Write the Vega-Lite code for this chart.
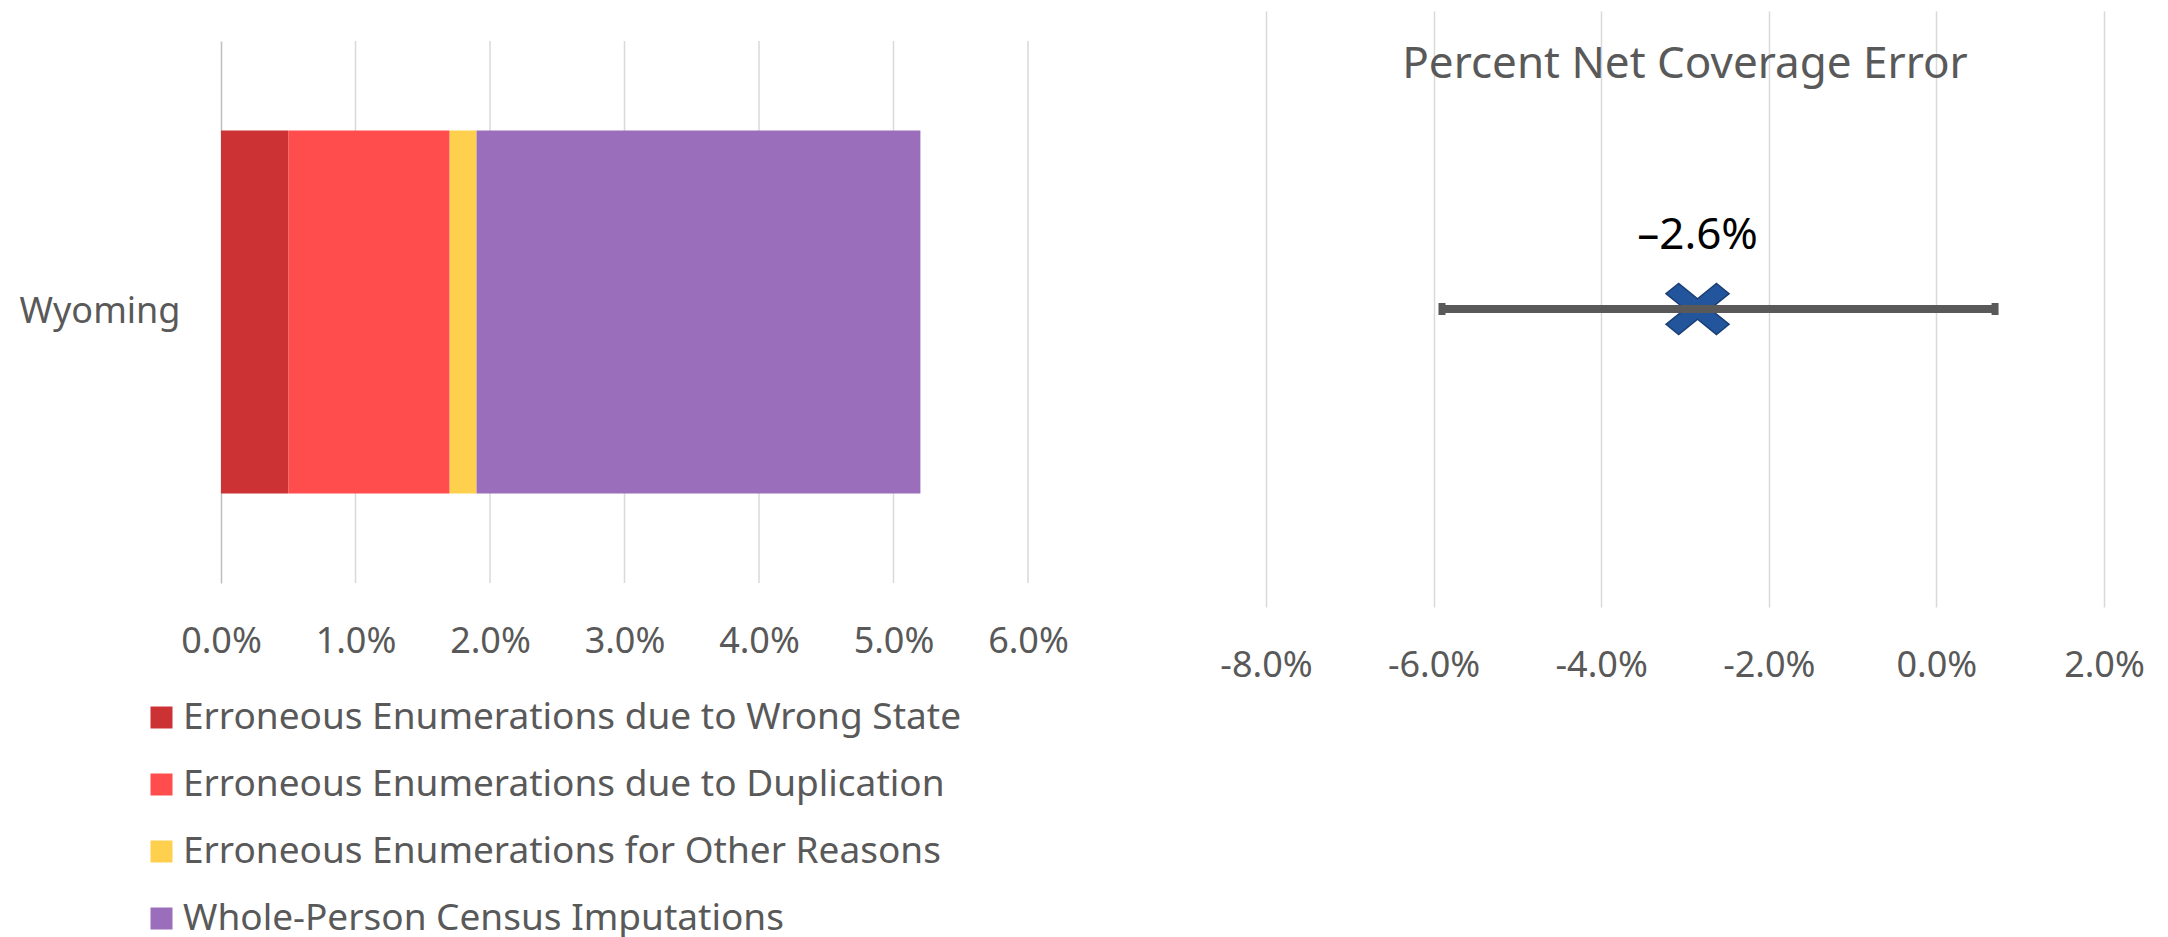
{
  "$schema": "https://vega.github.io/schema/vega-lite/v6.json",
  "background": "white",
  "padding": {"left": 17, "top": 11, "right": 0, "bottom": 0},
  "spacing": 150,
  "config": {
    "view": {"stroke": null},
    "font": "Noto Sans",
    "title": {"color": "#595959", "fontWeight": "normal", "font": "Noto Sans"}
  },
  "datasets": {
    "components": [
      {"state": "Wyoming", "component": "Erroneous Enumerations due to Wrong State", "percent": 0.5, "order": 1},
      {"state": "Wyoming", "component": "Erroneous Enumerations due to Duplication", "percent": 1.2, "order": 2},
      {"state": "Wyoming", "component": "Erroneous Enumerations for Other Reasons", "percent": 0.2, "order": 3},
      {"state": "Wyoming", "component": "Whole-Person Census Imputations", "percent": 3.3, "order": 4}
    ],
    "gridlines": [
      {"state": "Wyoming", "tick": 1},
      {"state": "Wyoming", "tick": 2},
      {"state": "Wyoming", "tick": 3},
      {"state": "Wyoming", "tick": 4},
      {"state": "Wyoming", "tick": 5},
      {"state": "Wyoming", "tick": 6}
    ],
    "coverage": [
      {"state": "Wyoming", "estimate": -2.85, "lower": -5.9, "upper": 0.7, "label": "–2.6%"}
    ]
  },
  "hconcat": [
    {
      "width": 807,
      "height": 572,
      "encoding": {
        "y": {
          "field": "state", "type": "nominal",
          "scale": {"range": [572, 30], "paddingInner": 0, "paddingOuter": 0.2466},
          "axis": {"title": null, "labelFontSize": 36, "labelColor": "#595959", "labelPadding": 41, "ticks": false, "domain": true, "domainColor": "#bfbfbf", "domainWidth": 1.5, "grid": false, "minExtent": 204, "maxExtent": 204}
        }
      },
      "layer": [
        {
          "data": {"name": "gridlines"},
          "mark": {"type": "tick", "color": "#d9d9d9", "thickness": 1.5, "size": 542, "orient": "vertical", "opacity": 1},
          "encoding": {"x": {"field": "tick", "type": "quantitative"}}
        },
        {
          "data": {"name": "components"},
          "mark": {"type": "bar"},
          "encoding": {
            "x": {
              "field": "percent", "type": "quantitative", "stack": "zero",
              "scale": {"domain": [0, 6], "nice": false},
              "axis": {"title": null, "values": [0, 1, 2, 3, 4, 5, 6], "labelExpr": "format(datum.value, '.1f') + '%'", "labelFontSize": 36, "labelColor": "#595959", "labelPadding": 41, "ticks": false, "domain": false, "grid": false, "labelFlush": false, "labelOverlap": false}
            },
            "color": {
              "field": "component", "type": "nominal",
              "scale": {
                "domain": ["Erroneous Enumerations due to Wrong State", "Erroneous Enumerations due to Duplication", "Erroneous Enumerations for Other Reasons", "Whole-Person Census Imputations"],
                "range": ["#CC3234", "#FF4D4D", "#FFD04D", "#9A6EBB"]
              },
              "legend": {"orient": "none", "legendX": -78, "legendY": 688, "direction": "vertical", "title": null, "symbolType": "square", "symbolSize": 484, "symbolStrokeWidth": 0, "labelFontSize": 37, "labelColor": "#595959", "labelOffset": 3, "rowPadding": 29, "padding": 0, "labelLimit": 1000}
            },
            "order": {"field": "order", "type": "quantitative"}
          }
        }
      ]
    },
    {
      "width": 838,
      "height": 596,
      "title": {"text": "Percent Net Coverage Error", "fontSize": 44, "offset": -76, "anchor": "middle"},
      "data": {"name": "coverage"},
      "encoding": {"y": {"field": "state", "type": "nominal", "axis": null}},
      "layer": [
        {
          "mark": {"type": "point", "shape": "M -1 -0.486 L -0.6 -0.81 L 0 -0.324 L 0.6 -0.81 L 1 -0.486 L 0.4 0 L 1 0.486 L 0.6 0.81 L 0 0.324 L -0.6 0.81 L -1 0.486 L -0.4 0 Z", "filled": true, "size": 3969, "fill": "#22559B", "stroke": "#1B3F74", "strokeWidth": 1.5, "opacity": 1},
          "encoding": {
            "x": {
              "field": "estimate", "type": "quantitative",
              "scale": {"domain": [-8, 2], "nice": false},
              "axis": {"title": null, "values": [-8, -6, -4, -2, 0, 2], "labelExpr": "replace(format(datum.value, '.1f'), '−', '-') + '%'", "labelFontSize": 36, "labelColor": "#595959", "labelPadding": 41, "ticks": false, "domain": false, "grid": true, "gridColor": "#d9d9d9", "gridWidth": 1.5, "labelFlush": false, "labelOverlap": false}
            }
          }
        },
        {
          "mark": {"type": "rule", "color": "#595959", "strokeWidth": 8},
          "encoding": {"x": {"field": "lower", "type": "quantitative"}, "x2": {"field": "upper"}}
        },
        {
          "mark": {"type": "tick", "color": "#595959", "thickness": 7, "size": 12, "orient": "vertical", "opacity": 1},
          "encoding": {"x": {"field": "lower", "type": "quantitative"}}
        },
        {
          "mark": {"type": "tick", "color": "#595959", "thickness": 7, "size": 12, "orient": "vertical", "opacity": 1},
          "encoding": {"x": {"field": "upper", "type": "quantitative"}}
        },
        {
          "mark": {"type": "text", "fontSize": 44, "color": "#000000", "dy": -73, "baseline": "middle"},
          "encoding": {"x": {"field": "estimate", "type": "quantitative"}, "text": {"field": "label"}}
        }
      ]
    }
  ]
}
